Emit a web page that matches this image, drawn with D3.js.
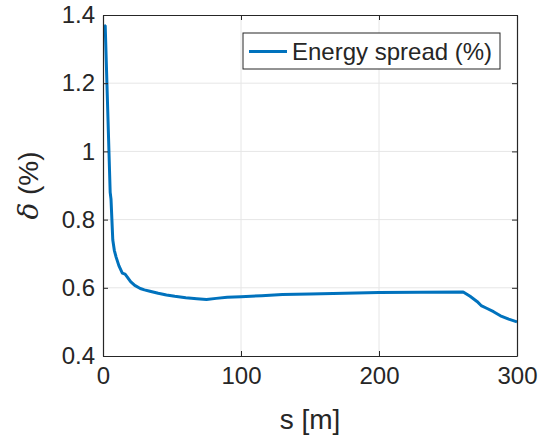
<!DOCTYPE html>
<html>
<head>
<meta charset="utf-8">
<script src="https://cdn.jsdelivr.net/npm/d3@7"></script>
<style>
  body { margin: 0; background: #fff; }
  svg text { font-family: "Liberation Sans", Arial, Helvetica, sans-serif; fill: #262626; }
</style>
</head>
<body>
<svg id="chart" width="540" height="440"></svg>
<script>
// position along line (m)
const sPos = [0.8, 1.6, 5.2, 5.8, 7.1, 8.2, 9.5, 11.5, 14.0, 16.0, 17.5, 20, 23, 27, 30, 34, 40, 46, 52, 60, 68, 75,
  82, 90, 100, 115, 130, 150, 175, 200, 230, 261, 266, 271, 274, 278, 283, 288, 294, 300];
// energy spread (%)
const spread = [1.37, 1.368, 0.88, 0.86, 0.74, 0.71, 0.69, 0.665, 0.643, 0.640, 0.632, 0.618, 0.607, 0.598, 0.594,
  0.590, 0.584, 0.579, 0.575, 0.571, 0.568, 0.566, 0.569, 0.572, 0.574, 0.577, 0.580, 0.582, 0.584, 0.586, 0.587,
  0.588, 0.575, 0.56, 0.548, 0.540, 0.530, 0.518, 0.508, 0.500];
const xTicks = [0, 100, 200, 300];
const yTicks = [0.4, 0.6, 0.8, 1, 1.2, 1.4];
const seriesName = "Energy spread (%)";

const margin = { top: 15, right: 23, bottom: 84, left: 103 };
const width = 540 - margin.left - margin.right;
const height = 440 - margin.top - margin.bottom;

const svg = d3.select("#chart");
const g = svg.append("g").attr("transform", `translate(${margin.left},${margin.top})`);

const x = d3.scaleLinear().domain([0, 300]).range([0, width]);
const y = d3.scaleLinear().domain([0.4, 1.4]).range([height, 0]);

// grid
g.append("g").selectAll("line").data(xTicks.slice(1, -1)).join("line")
  .attr("x1", d => x(d)).attr("x2", d => x(d)).attr("y1", 0).attr("y2", height)
  .attr("stroke", "#e6e6e6").attr("stroke-width", 1);
g.append("g").selectAll("line").data(yTicks.slice(1, -1)).join("line")
  .attr("y1", d => y(d)).attr("y2", d => y(d)).attr("x1", 0).attr("x2", width)
  .attr("stroke", "#e6e6e6").attr("stroke-width", 1);

// data line
const line = d3.line().x((d, i) => x(sPos[i])).y(d => y(d));
g.append("path")
  .datum(spread)
  .attr("fill", "none")
  .attr("stroke", "#0072BD")
  .attr("stroke-width", 3)
  .attr("stroke-linejoin", "round")
  .attr("d", line);

// axes (matlab style, ticks inside, box on)
const tl = 5;
const xAx = g.append("g").attr("transform", `translate(0,${height})`)
  .call(d3.axisBottom(x).tickValues(xTicks).tickSizeInner(-tl).tickSizeOuter(0).tickPadding(11));
const yAx = g.append("g")
  .call(d3.axisLeft(y).tickValues(yTicks).tickFormat(d3.format("~g")).tickSizeInner(-tl).tickSizeOuter(0).tickPadding(8));
g.append("g")
  .call(d3.axisTop(x).tickValues(xTicks).tickSizeInner(-tl).tickSizeOuter(0).tickFormat(""));
g.append("g").attr("transform", `translate(${width},0)`)
  .call(d3.axisRight(y).tickValues(yTicks).tickSizeInner(-tl).tickSizeOuter(0).tickFormat(""));

g.selectAll(".domain").attr("stroke", "#262626").attr("stroke-width", 1.2);
g.selectAll(".tick line").attr("stroke", "#262626");
g.selectAll(".tick text").style("font-size", "24px").attr("fill", "#262626");
xAx.selectAll(".tick text").attr("dy", "0.71em");

// axis labels
g.append("text")
  .attr("x", width / 2).attr("y", height + 73)
  .attr("text-anchor", "middle").style("font-size", "28px")
  .text("s [m]");

const yl = g.append("text")
  .attr("transform", `translate(${-65},${height / 2}) rotate(-90)`)
  .attr("text-anchor", "middle").style("font-size", "28px");
yl.append("tspan").style("font-style", "italic").style("font-family", "'DejaVu Serif', serif").text("δ");
yl.append("tspan").text(" (%)");

// legend
const lg = svg.append("g").attr("transform", "translate(243,33)");
lg.append("rect").attr("width", 257).attr("height", 36)
  .attr("fill", "#fff").attr("stroke", "#262626").attr("stroke-width", 1);
lg.append("line").attr("x1", 6).attr("x2", 44).attr("y1", 18.5).attr("y2", 18.5)
  .attr("stroke", "#0072BD").attr("stroke-width", 3);
lg.append("text").attr("x", 49).attr("y", 18.5).attr("dy", "0.35em")
  .style("font-size", "24px").attr("fill", "#000").text(seriesName);
</script>
</body>
</html>
